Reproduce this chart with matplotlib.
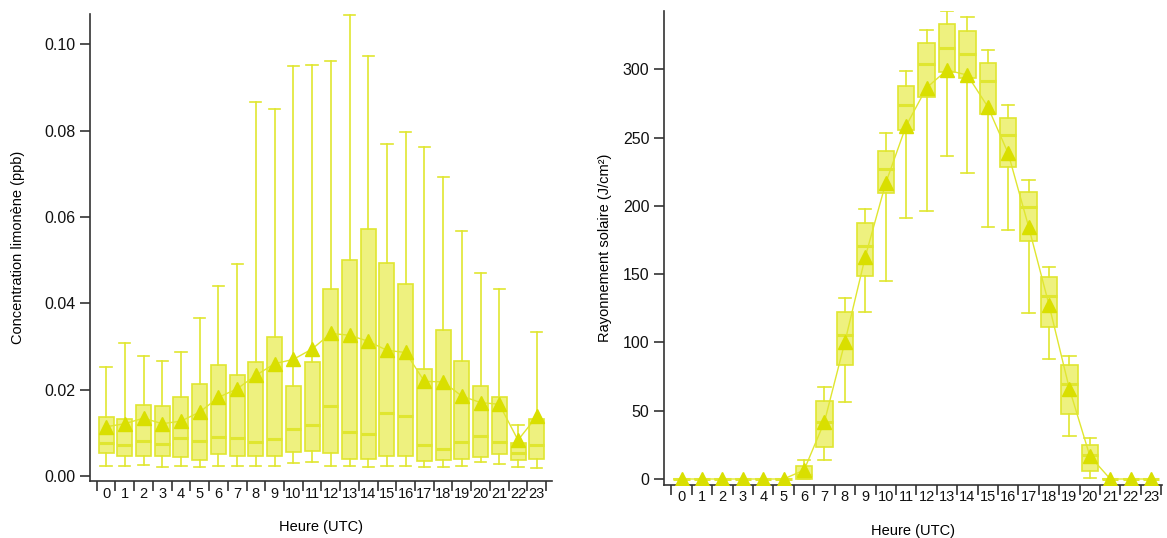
import numpy as np
import matplotlib
matplotlib.use("Agg")
import matplotlib.pyplot as plt

plt.rcParams["font.family"] = ["Liberation Sans", "DejaVu Sans"]

# ==================================================
# DATA
# ==================================================
heures = list(range(24))

# limonene (ppb)
lim_whislo = [0.0023, 0.0023, 0.0026, 0.0021, 0.0023, 0.0021, 0.0023, 0.0023, 0.0023, 0.0023,
              0.0030, 0.0032, 0.0024, 0.0024, 0.0021, 0.0024, 0.0024, 0.0021, 0.0021, 0.0024,
              0.0032, 0.0027, 0.0021, 0.0018]
lim_q1 = [0.0054, 0.0046, 0.0046, 0.0046, 0.0043, 0.0038, 0.0050, 0.0046, 0.0046, 0.0046,
          0.0055, 0.0058, 0.0053, 0.0040, 0.0040, 0.0046, 0.0046, 0.0035, 0.0038, 0.0040,
          0.0044, 0.0050, 0.0038, 0.0040]
lim_med = [0.0077, 0.0071, 0.0080, 0.0074, 0.0088, 0.0082, 0.0091, 0.0088, 0.0079, 0.0085,
           0.0108, 0.0119, 0.0163, 0.0102, 0.0097, 0.0145, 0.0140, 0.0072, 0.0063, 0.0079,
           0.0092, 0.0079, 0.0054, 0.0072]
lim_q3 = [0.0136, 0.0132, 0.0164, 0.0161, 0.0182, 0.0212, 0.0258, 0.0235, 0.0264, 0.0321,
          0.0209, 0.0264, 0.0433, 0.0500, 0.0571, 0.0494, 0.0444, 0.0247, 0.0338, 0.0267,
          0.0209, 0.0184, 0.0077, 0.0133]
lim_whishi = [0.0253, 0.0307, 0.0278, 0.0267, 0.0287, 0.0366, 0.0441, 0.0492, 0.0865, 0.0851,
              0.0950, 0.0951, 0.0962, 0.1068, 0.0973, 0.0770, 0.0796, 0.0762, 0.0693, 0.0568,
              0.0470, 0.0433, 0.0118, 0.0333]
lim_mean = [0.0114, 0.0121, 0.0134, 0.0121, 0.0127, 0.0148, 0.0182, 0.0202, 0.0233, 0.0260,
            0.0270, 0.0294, 0.0330, 0.0326, 0.0312, 0.0291, 0.0286, 0.0219, 0.0218, 0.0185,
            0.0170, 0.0166, 0.0083, 0.0138]

# rayonnement solaire (J/cm2)
ray_whislo = [0, 0, 0, 0, 0, 0, 0, 13.7, 56.4, 122.2, 144.9, 190.8, 196.2, 236.2, 224.0,
              184.7, 182.3, 121.5, 87.6, 31.7, 1.0, 0, 0, 0]
ray_q1 = [0, 0, 0, 0, 0, 0, 0, 23.4, 83.2, 148.8, 209.6, 255.2, 279.4, 297.7, 293.3,
          267.2, 228.4, 174.4, 111.0, 47.6, 5.9, 0, 0, 0]
ray_med = [0, 0, 0, 0, 0, 0, 3.0, 41.5, 105.6, 170.3, 226.9, 273.8, 304.0, 315.3, 311.3,
           291.1, 252.0, 199.1, 134.2, 69.5, 17.6, 0, 0, 0]
ray_q3 = [0, 0, 0, 0, 0, 0, 9.5, 57.3, 122.2, 187.6, 240.3, 287.9, 319.2, 333.1, 327.7,
          304.5, 264.5, 209.9, 147.6, 83.2, 25.1, 0, 0, 0]
ray_whishi = [0, 0, 0, 0, 0, 0, 13.9, 67.6, 132.7, 197.4, 253.5, 298.4, 328.9, 342.6, 338.4,
              313.8, 274.0, 219.1, 155.4, 90.0, 30.3, 0, 0, 0]
ray_mean = [0, 0, 0, 0, 0, 0, 6.5, 42.0, 100.3, 162.7, 216.6, 258.6, 286.4, 299.4, 295.7,
            272.5, 238.4, 184.7, 127.4, 65.9, 16.8, 0, 0, 0]

# ==================================================
# STYLE
# ==================================================
c_fill = "#eef17f"
c_edge = "#e0e630"
c_mark = "#d9df00"
c_axe = "#333333"


def boite(ax, whislo, q1, med, q3, whishi, mean, ylabel, ylim, yticks, yfmt, xlim, ylpad):
    stats = []
    for i in range(len(heures)):
        stats.append(dict(whislo=whislo[i], q1=q1[i], med=med[i], q3=q3[i],
                          whishi=whishi[i], fliers=[]))
    ax.bxp(stats, positions=heures, widths=0.8, capwidths=0.6, patch_artist=True,
           showfliers=False, manage_ticks=False,
           boxprops=dict(facecolor=c_fill, edgecolor=c_edge, linewidth=1.2),
           medianprops=dict(color=c_edge, linewidth=2.2),
           whiskerprops=dict(color=c_edge, linewidth=1.2),
           capprops=dict(color=c_edge, linewidth=1.2))
    ax.plot(heures, mean, color=c_edge, linewidth=1, marker="^", markersize=10,
            markerfacecolor=c_mark, markeredgecolor=c_mark, zorder=5)

    ax.set_xlim(*xlim)
    ax.set_ylim(*ylim)
    ax.set_yticks(yticks)
    ax.set_yticklabels([yfmt.format(v) for v in yticks])
    # ticks entre les categories, etiquettes au centre
    ax.set_xticks(np.arange(-0.5, 24, 1))
    ax.set_xticklabels([])
    ax.set_xticks(heures, minor=True)
    ax.set_xticklabels([str(h) for h in heures], minor=True)
    ax.tick_params(axis="x", which="major", length=7, width=1.2, color=c_axe)
    ax.tick_params(axis="x", which="minor", length=0, pad=4, labelsize=10.5, labelcolor="#111111")
    ax.tick_params(axis="y", length=7, width=1.2, color=c_axe, labelsize=11.5,
                   labelcolor="#111111")
    for s in ["top", "right"]:
        ax.spines[s].set_visible(False)
    for s in ["left", "bottom"]:
        ax.spines[s].set_color(c_axe)
        ax.spines[s].set_linewidth(1.2)
    ax.set_xlabel("Heure (UTC)", fontsize=10.5, labelpad=14)
    ax.set_ylabel(ylabel, fontsize=10.5, labelpad=ylpad)


fig = plt.figure(figsize=(11.67, 5.38), dpi=100)
ax1 = fig.add_axes([0.0771, 0.106, 0.396, 0.868])
ax2 = fig.add_axes([0.569, 0.099, 0.427, 0.881])

boite(ax1, lim_whislo, lim_q1, lim_med, lim_q3, lim_whishi, lim_mean,
      "Concentration limonène (ppb)", (-0.00116, 0.107),
      [0.0, 0.02, 0.04, 0.06, 0.08, 0.10], "{:.2f}", (-0.86, 23.82), 14)
boite(ax2, ray_whislo, ray_q1, ray_med, ray_q3, ray_whishi, ray_mean,
      "Rayonnement solaire (J/cm²)", (-4.2, 342.8),
      [0, 50, 100, 150, 200, 250, 300], "{:.0f}", (-0.86, 23.55), 8)

fig.savefig("out.png", dpi=100)
